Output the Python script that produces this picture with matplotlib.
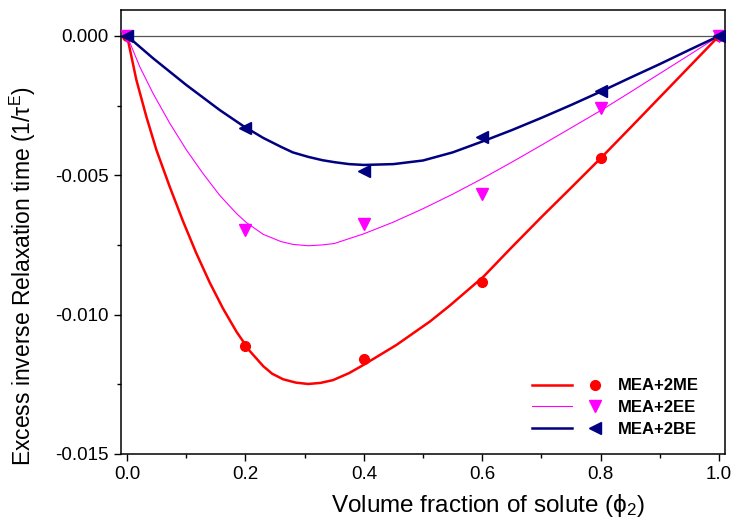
import numpy as np
import matplotlib
matplotlib.use("Agg")
import matplotlib.pyplot as plt
from matplotlib.ticker import MultipleLocator, FormatStrFormatter
from matplotlib.legend_handler import HandlerTuple
from matplotlib.lines import Line2D

plt.rcParams['font.family'] = ['Liberation Sans', 'DejaVu Sans']
plt.rcParams['mathtext.fontset'] = 'custom'
plt.rcParams['mathtext.rm'] = 'Liberation Sans'
plt.rcParams['mathtext.it'] = 'Liberation Sans:italic'
plt.rcParams['axes.unicode_minus'] = False

# measured points
phi = [0.0, 0.2, 0.4, 0.6, 0.8, 1.0]
me_pts = [0.0, -0.01113, -0.01159, -0.00883, -0.00438, 0.0]
ee_pts = [0.0, -0.00696, -0.00675, -0.00567, -0.00258, 0.0]
be_pts = [0.0, -0.00331, -0.00486, -0.00363, -0.00197, 0.0]

# fitted curves
me_fx = [0.0, 0.0157, 0.0326, 0.0495, 0.072, 0.0945, 0.117, 0.1396, 0.162, 0.185,
         0.207, 0.23, 0.245, 0.2635, 0.285, 0.306, 0.327, 0.348, 0.375, 0.399, 0.455,
         0.5115, 0.545, 0.602, 0.65, 0.7, 0.75, 0.8, 0.85, 0.9, 0.95, 1.0]
me_fy = [0.0, -0.00158, -0.0029, -0.00409, -0.00541, -0.00665, -0.0078, -0.00885,
         -0.00978, -0.01062, -0.0113, -0.01185, -0.01212, -0.01232, -0.01244, -0.01249,
         -0.01245, -0.01235, -0.0121, -0.01181, -0.01109, -0.01025, -0.00968, -0.00864,
         -0.00758, -0.0065, -0.00545, -0.00439, -0.0033, -0.0022, -0.0011, 0.0]
ee_fx = [0.0, 0.0213, 0.0438, 0.072, 0.1002, 0.128, 0.1565, 0.1847, 0.2017, 0.23,
         0.26, 0.28, 0.306, 0.33, 0.35, 0.4, 0.45, 0.5, 0.55, 0.6, 0.65, 0.7, 0.75,
         0.8, 0.85, 0.9, 0.95, 1.0]
ee_fy = [0.0, -0.0011, -0.00206, -0.00313, -0.00409, -0.00493, -0.00572, -0.00637,
         -0.0067, -0.00712, -0.00738, -0.00748, -0.00753, -0.0075, -0.00745, -0.0071,
         -0.00668, -0.0062, -0.00568, -0.00512, -0.00453, -0.00392, -0.0033, -0.00268,
         -0.00202, -0.00135, -0.00068, 0.0]
be_fx = [0.0, 0.0438, 0.1, 0.1565, 0.196, 0.23, 0.26, 0.28, 0.306, 0.33, 0.35, 0.375,
         0.4, 0.45, 0.5, 0.55, 0.6, 0.65, 0.7, 0.75, 0.8, 0.85, 0.9, 0.95, 1.0]
be_fy = [0.0, -0.0008, -0.00176, -0.00266, -0.00323, -0.00366, -0.00398, -0.00418,
         -0.00434, -0.00446, -0.00453, -0.0046, -0.00463, -0.0046, -0.00447, -0.00418,
         -0.00379, -0.00338, -0.00294, -0.00248, -0.002, -0.0015, -0.00101, -0.0005, 0.0]

labels = ['MEA+2ME', 'MEA+2EE', 'MEA+2BE']

fig = plt.figure(figsize=(7.31, 5.26), dpi=100)
ax = fig.add_axes([0.1655, 0.137, 0.8263, 0.844])

ax.axhline(0, color='#555555', lw=0.9, zorder=1)

l1, = ax.plot(me_fx, me_fy, color='#ff0000', lw=1.8, zorder=2)
l2, = ax.plot(ee_fx, ee_fy, color='#ff00ff', lw=0.8, zorder=2)
l3, = ax.plot(be_fx, be_fy, color='#000080', lw=1.8, zorder=2)
m1, = ax.plot(phi, me_pts, 'o', color='#ff0000', ms=7, ls='none', zorder=3)
m2, = ax.plot(phi, ee_pts, 'v', color='#ff00ff', ms=8, ls='none', zorder=3)
m3, = ax.plot(phi, be_pts, '<', color='#000080', ms=8, ls='none', zorder=3)

ax.set_xlim(-0.0103, 1.0101)
ax.set_ylim(-0.015, 0.00093)
ax.xaxis.set_major_locator(MultipleLocator(0.2))
ax.xaxis.set_minor_locator(MultipleLocator(0.1))
ax.xaxis.set_major_formatter(FormatStrFormatter('%.1f'))
ax.yaxis.set_major_locator(MultipleLocator(0.005))
ax.yaxis.set_minor_locator(MultipleLocator(0.0025))
ax.yaxis.set_major_formatter(FormatStrFormatter('%.3f'))
ax.tick_params(which='major', direction='out', length=5, width=1, labelsize=13.5, pad=4)
ax.tick_params(which='minor', direction='out', length=3, width=1)
for s in ax.spines.values():
    s.set_linewidth(1.1)

ax.set_xlabel(r'Volume fraction of solute ($\mathregular{\phi_2}$)', fontsize=17.5)
ax.xaxis.set_label_coords(0.607, -0.085)
ax.set_ylabel(r'Excess inverse Relaxation time (1/$\mathregular{\tau^E}$)', fontsize=16.5)
ax.yaxis.set_label_coords(-0.137, 0.4)

ax.legend([(l1, Line2D([], [], marker='o', color='#ff0000', ms=7, ls='none')),
           (l2, Line2D([], [], marker='v', color='#ff00ff', ms=8, ls='none')),
           (l3, Line2D([], [], marker='<', color='#000080', ms=8, ls='none'))],
          labels, handler_map={tuple: HandlerTuple(ndivide=None, pad=0.1)},
          loc='lower left', bbox_to_anchor=(0.655, 0.005), frameon=False,
          handlelength=5.0, handletextpad=0.2, labelspacing=0.4,
          prop={'weight': 'bold', 'size': 12})

fig.savefig('out.png', dpi=100)
